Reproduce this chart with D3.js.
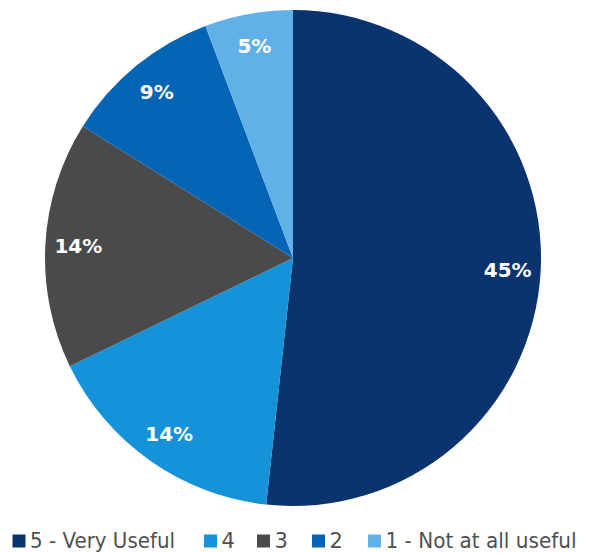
<!DOCTYPE html>
<html>
<head>
<meta charset="utf-8">
<script src="https://cdn.jsdelivr.net/npm/d3@7"></script>
<style>
  html, body { margin: 0; padding: 0; background: #fff; }
  svg { display: block; }
</style>
</head>
<body>
<svg id="chart" width="596" height="553"></svg>
<script>
// Survey responses: how useful respondents found it (percent)
const categories = ["5 - Very Useful", "4", "3", "2", "1 - Not at all useful"];
const values = [45, 14, 14, 9, 5];
const labels = ["45%", "14%", "14%", "9%", "5%"];
const colors = ["#0b336e", "#1592d8", "#4a4a4a", "#0565b4", "#62b0e8"];

const svg = d3.select("#chart");
const cx = 293, cy = 258, radius = 248, labelRadius = 215;
const font = "'DejaVu Sans', sans-serif";

const data = categories.map((c, i) => ({ category: c, value: values[i], label: labels[i] }));
const color = d3.scaleOrdinal().domain(categories).range(colors);

const pie = d3.pie().value(d => d.value).sort(null);
const arc = d3.arc().innerRadius(0).outerRadius(radius);
const labelArc = d3.arc().innerRadius(labelRadius).outerRadius(labelRadius);

const g = svg.append("g").attr("transform", `translate(${cx},${cy})`);
const arcs = pie(data);

g.selectAll("path.slice")
  .data(arcs)
  .join("path")
  .attr("class", "slice")
  .attr("d", arc)
  .attr("fill", d => color(d.data.category));

g.selectAll("text.value")
  .data(arcs)
  .join("text")
  .attr("class", "value")
  .attr("transform", d => `translate(${labelArc.centroid(d)})`)
  .attr("text-anchor", "middle")
  .attr("dominant-baseline", "central")
  .attr("font-family", font)
  .attr("font-weight", "bold")
  .attr("font-size", 20)
  .attr("fill", "#ffffff")
  .text(d => d.data.label);

// Legend along the bottom
const legend = svg.append("g").attr("transform", "translate(12.5,541)");
const legendX = [0, 191.5, 244.5, 299.5, 355.5];
const items = legend.selectAll("g.item")
  .data(data)
  .join("g")
  .attr("class", "item")
  .attr("transform", (d, i) => `translate(${legendX[i]},0)`);

items.append("rect")
  .attr("x", 0).attr("y", -6.5)
  .attr("width", 13).attr("height", 13)
  .attr("fill", d => color(d.category));

items.append("text")
  .attr("x", 17.5)
  .attr("y", 0)
  .attr("dominant-baseline", "central")
  .attr("font-family", font)
  .attr("font-size", 21)
  .attr("fill", "#505050")
  .text(d => d.category)
  .each(function (d) {
    // fit the two long entries to their slots in the row
    if (d.category.length > 2) {
      d3.select(this)
        .attr("textLength", d.category.startsWith("5") ? 145 : 191)
        .attr("lengthAdjust", "spacingAndGlyphs");
    }
  });
</script>
</body>
</html>
